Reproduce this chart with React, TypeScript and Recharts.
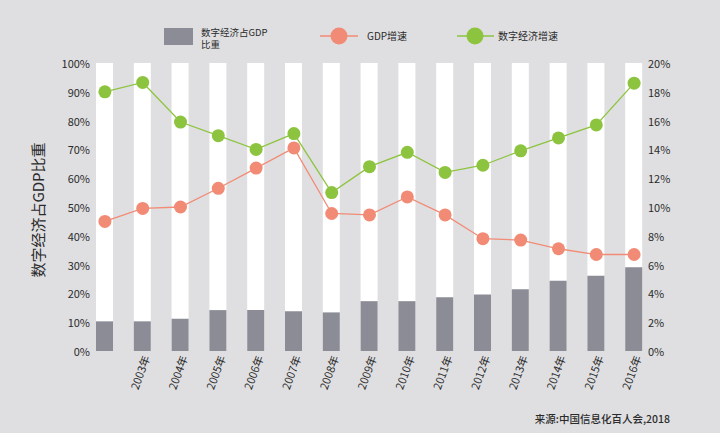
import { ComposedChart, Bar, Line, XAxis, YAxis } from 'recharts';

const years = ['', '2003年', '2004年', '2005年', '2006年', '2007年', '2008年', '2009年', '2010年', '2011年', '2012年', '2013年', '2014年', '2015年', '2016年'];
// 数字经济占GDP比重 (%)
const digitalShare = [10.3, 10.3, 11.2, 14.2, 14.2, 13.8, 13.4, 17.3, 17.3, 18.7, 19.6, 21.4, 24.4, 26.1, 29.1];
// GDP增速 (%)
const gdpGrowth = [9.0, 9.9, 10.0, 11.3, 12.7, 14.1, 9.55, 9.45, 10.7, 9.45, 7.8, 7.7, 7.1, 6.7, 6.7];
// 数字经济增速 (%)
const digitalGrowth = [18.0, 18.65, 15.9, 14.95, 14.0, 15.1, 11.0, 12.8, 13.8, 12.4, 12.9, 13.9, 14.8, 15.7, 18.6];

const leftTicks = [0, 10, 20, 30, 40, 50, 60, 70, 80, 90, 100];
const rightTicks = [0, 2, 4, 6, 8, 10, 12, 14, 16, 18, 20];

const data = years.map((year, i) => ({
  year,
  share: digitalShare[i],
  gdp: gdpGrowth[i],
  digital: digitalGrowth[i],
}));

const FONT = '"Noto Sans CJK SC", "Noto Sans", sans-serif';
const BG = '#dfdfe1';
const GRAY = '#8b8c96';
const RED = '#f28b75';
const GREEN = '#8dc43f';
const TEXT = '#2b2b2b';

const YearTick = (props: any) => {
  const { x, y, payload } = props;
  const tx = x + 4;
  return (
    <text
      x={tx}
      y={y}
      dy="0.35em"
      transform={`rotate(-70 ${tx} ${y})`}
      textAnchor="end"
      fontSize={11}
      fill={TEXT}
      fontFamily={FONT}
    >
      {payload.value}
    </text>
  );
};

const Legend = () => (
  <svg width={720} height={60} style={{ position: 'absolute', left: 0, top: 0 }}>
    <rect x={164} y={28} width={29} height={17} fill={GRAY} />
    <text x={201} y={35.5} fontSize={9.5} fill={TEXT} fontFamily={FONT}>数字经济占GDP</text>
    <text x={201} y={48} fontSize={9.5} fill={TEXT} fontFamily={FONT}>比重</text>
    <line x1={320} y1={36} x2={358} y2={36} stroke={RED} strokeWidth={1.5} />
    <circle cx={339} cy={36} r={8.5} fill={RED} />
    <text x={367} y={40} fontSize={10} fill={TEXT} fontFamily={FONT}>GDP增速</text>
    <line x1={457} y1={36} x2={494} y2={36} stroke={GREEN} strokeWidth={1.5} />
    <circle cx={475} cy={36} r={8.5} fill={GREEN} />
    <text x={498} y={40} fontSize={10} fill={TEXT} fontFamily={FONT}>数字经济增速</text>
  </svg>
);

const Notes = () => (
  <svg width={720} height={433} style={{ position: 'absolute', left: 0, top: 0, pointerEvents: 'none' }}>
    <text
      x={37}
      y={210}
      transform="rotate(-90 37 210)"
      textAnchor="middle"
      dominantBaseline="central"
      fontSize={15}
      fill={TEXT}
      fontFamily={FONT}
    >
      数字经济占GDP比重
    </text>
    <text x={670} y={423} textAnchor="end" fontSize={10.5} fontWeight={500} fill={TEXT} fontFamily={FONT}>
      来源:中国信息化百人会,2018
    </text>
  </svg>
);

export default function App() {
  return (
    <div style={{ position: 'absolute', left: 0, top: 0, width: 720, height: 433, background: BG, fontFamily: FONT }}>
      <ComposedChart
        width={720}
        height={433}
        data={data}
        margin={{ top: 63, right: 7, bottom: 42, left: 26 }}
      >
        <XAxis
          dataKey="year"
          interval={0}
          axisLine={false}
          tickLine={false}
          tickSize={0}
          tickMargin={5}
          height={40}
          tick={<YearTick />}
        />
        <YAxis
          yAxisId="left"
          width={60}
          domain={[0, 100]}
          ticks={leftTicks}
          tickFormatter={(v: number) => `${v}%`}
          axisLine={false}
          tickLine={false}
          tickSize={0}
          tickMargin={-4}
          tick={{ fontSize: 11, fill: TEXT, fontFamily: FONT, dy: 1 }}
        />
        <YAxis
          yAxisId="right"
          orientation="right"
          width={60}
          domain={[0, 20]}
          ticks={rightTicks}
          tickFormatter={(v: number) => `${v}%`}
          axisLine={false}
          tickLine={false}
          tickSize={0}
          tickMargin={-5}
          tick={{ fontSize: 11, fill: TEXT, fontFamily: FONT, textAnchor: 'start', dy: 1 }}
        />
        <Bar
          yAxisId="left"
          dataKey="share"
          barSize={17}
          fill={GRAY}
          background={{ fill: '#ffffff' }}
          isAnimationActive={false}
        />
        <Line
          yAxisId="right"
          dataKey="gdp"
          stroke={RED}
          strokeWidth={1.3}
          dot={{ r: 6.5, fill: RED, stroke: 'none' }}
          activeDot={false}
          isAnimationActive={false}
        />
        <Line
          yAxisId="right"
          dataKey="digital"
          stroke={GREEN}
          strokeWidth={1.3}
          dot={{ r: 6.5, fill: GREEN, stroke: 'none' }}
          activeDot={false}
          isAnimationActive={false}
        />
      </ComposedChart>
      <Legend />
      <Notes />
    </div>
  );
}
